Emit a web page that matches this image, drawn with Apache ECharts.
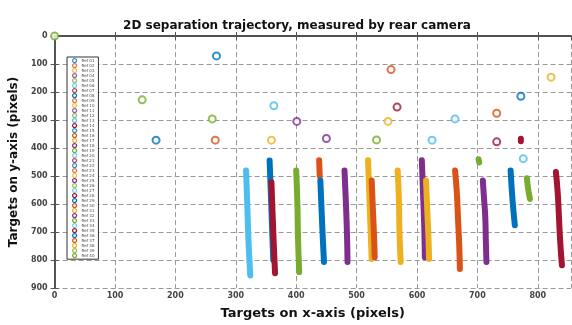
<!DOCTYPE html>
<html>
<head>
<meta charset="utf-8">
<script src="https://cdn.jsdelivr.net/npm/echarts@6/dist/echarts.min.js"></script>
<style>
  html, body { margin: 0; padding: 0; background: #fff; }
  #chart { width: 572px; height: 325px; }
</style>
</head>
<body>
<div id="chart"></div>
<script>
// MATLAB default line colours
const palette = ["#0072BD", "#D95319", "#EDB120", "#7E2F8E", "#77AC30", "#4DBEEE", "#A2142F"];

const refNames = [];
for (let i = 1; i <= 40; i++) refNames.push("Ref " + (i < 10 ? "0" + i : i));

// colour index of each ref (cycle, except Ref 39 which is green in the picture)
const refColor = [0, 1, 2, 3, 4, 5, 6, 0, 1, 2, 3, 4, 5, 6, 0, 1, 2, 3, 4, 5,
                  6, 0, 1, 2, 3, 4, 5, 6, 0, 1, 2, 3, 4, 5, 6, 0, 1, 2, 4, 4];

// measured target positions [x, y] per ref (one point = single mark, more = trajectory)
const refTracks = [
  [[268, 71]],
  [[557, 120]],
  [[822, 147]],
  [[401, 305]],
  [[0, 0]],
  [[363, 249]],
  [[567, 254]],
  [[356, 445], [358, 560], [360, 680], [362, 800]],
  [[266, 372]],
  [[359, 372]],
  [[450, 366]],
  [[261, 296]],
  [[317, 480], [319, 600], [321, 730], [324, 855]],
  [[359, 522], [361, 640], [363, 750], [365, 847]],
  [[168, 372]],
  [[438, 444], [439, 500]],
  [[519, 444], [521, 560], [523, 680], [525, 796]],
  [[480, 480], [482, 580], [484, 700], [485, 807]],
  [[400, 480], [402, 600], [403, 720], [405, 843]],
  [[625, 372]],
  [[732, 378]],
  [[772, 215]],
  [[732, 276]],
  [[552, 305]],
  [[608, 444], [610, 560], [612, 680], [613, 790]],
  [[533, 371]],
  [[663, 296]],
  [[772, 367], [772, 376]],
  [[440, 516], [442, 620], [444, 720], [446, 807]],
  [[525, 516], [527, 620], [529, 720], [530, 790]],
  [[568, 480], [570, 580], [571, 700], [573, 807]],
  [[709, 516], [711, 580], [713, 644], [714, 730], [715, 807]],
  [[702, 440], [703, 452]],
  [[776, 438]],
  [[830, 486], [833, 560], [835, 644], [837, 730], [840, 819]],
  [[755, 480], [758, 580], [762, 676]],
  [[663, 480], [666, 560], [668, 656], [670, 750], [671, 832]],
  [[615, 516], [617, 620], [619, 720], [620, 796]],
  [[145, 228]],
  [[782, 508], [784, 545], [787, 582]]
];

const xTicks = { min: 0, max: 855, interval: 100 };
const yTicks = { min: 0, max: 900, interval: 100 };

const font = "DejaVu Sans";
const chart = echarts.init(document.getElementById("chart"));

const series = refTracks.map((pts, i) => {
  const c = palette[refColor[i]];
  if (pts.length === 1) {
    return {
      name: refNames[i],
      type: "scatter",
      data: pts,
      symbol: "circle",
      symbolSize: 7,
      itemStyle: { color: "#fff", borderColor: c, borderWidth: 2 }
    };
  }
  return {
    name: refNames[i],
    type: "line",
    data: pts,
    showSymbol: false,
    smooth: true,
    color: c,
    lineStyle: { color: c, width: 6, cap: "round", join: "round" }
  };
});

const labelStyle = { color: "#444", fontFamily: font, fontWeight: "bold", fontSize: 8 };

chart.setOption({
  animation: false,
  title: {
    text: "2D separation trajectory, measured by rear camera",
    left: 292,
    top: 15,
    textAlign: "center",
    textStyle: { fontFamily: font, fontWeight: "bold", fontSize: 12, color: "#111" }
  },
  grid: { left: 54, right: 1, top: 36, bottom: 37 },
  legend: {
    orient: "vertical",
    left: 67,
    top: 57,
    data: refNames.map((n, i) => ({
      name: n,
      icon: "circle",
      itemStyle: { color: "#fff", borderColor: palette[refColor[i]], borderWidth: 1.2 }
    })),
    itemWidth: 4,
    itemHeight: 4,
    itemGap: -0.2,
    padding: [1, 4, 1, 5],
    backgroundColor: "#fff",
    borderColor: "#333",
    borderWidth: 1,
    selectedMode: false,
    textStyle: { fontFamily: font, fontSize: 4, lineHeight: 4, color: "#444" }
  },
  xAxis: [
    {
      type: "value",
      min: xTicks.min, max: xTicks.max, interval: xTicks.interval,
      name: "Targets on x-axis (pixels)",
      nameLocation: "middle",
      nameGap: 19,
      nameTextStyle: { fontFamily: font, fontWeight: "bold", fontSize: 13, color: "#111" },
      axisLine: { show: true, lineStyle: { color: "#444", width: 1.8 } },
      axisTick: { show: true, inside: true, length: 4, lineStyle: { color: "#555" } },
      axisLabel: Object.assign({ margin: 4, showMaxLabel: false }, labelStyle),
      splitLine: { show: true, lineStyle: { color: "#999", type: [5, 3], width: 1 } }
    },
    {
      type: "value", position: "top",
      min: xTicks.min, max: xTicks.max, interval: xTicks.interval,
      axisLine: { show: true, lineStyle: { color: "#555", width: 1.5 } },
      axisTick: { show: true, inside: true, length: 4, lineStyle: { color: "#555" } },
      axisLabel: { show: false },
      splitLine: { show: false }
    }
  ],
  yAxis: [
    {
      type: "value",
      inverse: true,
      min: yTicks.min, max: yTicks.max, interval: yTicks.interval,
      name: "Targets on y-axis (pixels)",
      nameLocation: "middle",
      nameGap: 23,
      nameTextStyle: { fontFamily: font, fontWeight: "bold", fontSize: 12, color: "#111" },
      axisLine: { show: true, lineStyle: { color: "#444", width: 1.8 } },
      axisTick: { show: true, inside: true, length: 4, lineStyle: { color: "#555" } },
      axisLabel: Object.assign({ margin: 7 }, labelStyle),
      splitLine: { show: true, lineStyle: { color: "#999", type: [5, 3], width: 1 } }
    },
    {
      type: "value", position: "right", inverse: true,
      min: yTicks.min, max: yTicks.max, interval: yTicks.interval,
      axisLine: { show: true, lineStyle: { color: "#555", width: 1.5 } },
      axisTick: { show: true, inside: true, length: 4, lineStyle: { color: "#555" } },
      axisLabel: { show: false },
      splitLine: { show: false }
    }
  ],
  series: series
});
</script>
</body>
</html>
